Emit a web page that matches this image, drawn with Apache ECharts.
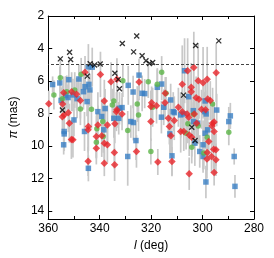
<!DOCTYPE html>
<html><head><meta charset="utf-8">
<script src="https://cdn.jsdelivr.net/npm/echarts@6/dist/echarts.min.js"></script>
<style>html,body{margin:0;padding:0;background:#fff}#c{width:274px;height:258px}</style>
</head><body><div id="c"></div>
<script>
// Galactic longitude l (deg), parallax pi (mas), parallax error (mas)
const blueL = [358.3,355.5,352.0,348.1,353.2,352.3,350.4,346.3,343.8,345.7,348.8,344.9,344.4,342.9,344.2,324.7,328.9,327.0,323.5,322.5,337.9,332.3,331.3,355.0,
  307.0,317.6,315.9,305.4,299.0,294.5,312.4,315.1,311.4,303.6,
  350.0,353.8,353.8,354.0,345.9,344.4,340.7,339.2,338.4,334.5,332.6,327.9,326.9,325.9,329.1,
  311.9,316.0,312.7,311.0,308.5,307.3,303.0,303.6,301.9,299.2,298.6,298.0,299.0,299.8,301.1,299.8,298.7,289.2,289.8,287.7,287.4];
const blueP = [6.22,6.12,5.92,5.88,6.90,7.02,6.86,6.66,6.55,6.35,7.09,7.27,5.13,5.15,6.21,5.64,6.27,6.68,6.76,6.78,7.70,7.68,7.64,7.20,
  5.37,6.39,6.19,6.97,7.23,7.79,7.17,7.62,7.89,7.83,
  8.40,9.11,9.26,9.93,9.11,11.38,7.89,8.19,9.01,8.30,8.30,8.50,8.56,9.67,10.65,
  10.61,8.23,9.26,7.95,8.09,8.03,9.83,8.50,8.60,7.89,8.03,9.01,9.22,9.93,10.34,10.65,12.22,8.15,8.50,10.65,12.49];
const blueErr = [0.5,1.0,1.2,0.9,1.2,0.8,1.0,1.1,1.0,0.9,1.2,0.9,1.4,1.2,1.0,1.0,1.2,1.0,1.1,0.9,1.2,1.0,0.9,0.8,
  2.0,1.1,1.0,1.5,1.2,1.0,1.0,1.1,1.2,1.3,
  1.0,1.2,1.0,0.6,1.2,0.8,1.2,1.1,1.3,1.2,1.0,1.0,1.1,1.2,1.8,
  1.2,1.0,1.2,1.0,1.4,1.2,1.4,1.2,1.3,1.2,1.0,1.2,1.0,1.5,1.0,1.0,1.0,0.8,0.9,0.5,0.7];

const greenL = [355.3,347.2,331.0,321.1,352.8,349.7,357.8,354.5,347.5,343.2,334.5,335.1,325.4,315.9,317.6,314.2,296.1,319.4,
  341.1,338.8,341.3,338.6,329.1,324.9,320.1,305.7,306.4,304.2,301.7,298.2,299.5,289.8,303.5];
const greenP = [5.80,5.58,5.99,6.05,6.66,6.56,6.86,7.10,7.72,7.74,7.23,7.48,7.42,5.47,6.21,6.76,7.42,7.62,
  8.95,8.50,9.77,9.42,9.05,8.09,10.34,8.64,9.22,10.08,8.77,9.46,10.44,9.16,8.05];
const greenErr = [1.2,1.0,1.0,1.0,1.0,1.1,0.9,0.8,1.0,1.2,1.2,1.0,1.1,1.0,1.0,1.0,1.0,1.2,
  1.0,1.2,1.0,1.0,1.2,1.0,0.8,1.2,1.0,1.0,1.1,1.0,1.0,0.8,1.0];

const redL = [345.7,339.7,335.6,333.3,324.7,354.0,350.9,349.0,354.4,347.5,338.2,333.3,320.1,359.8,
  305.8,303.4,294.7,314.5,307.9,304.4,304.4,301.7,299.8,298.2,302.5,301.4,298.0,297.0,314.6,317.9,319.8,309.4,307.9,300.4,298.8,
  353.8,352.2,354.5,351.8,351.0,350.4,344.4,344.5,344.5,341.3,341.3,340.7,339.2,338.2,337.0,338.2,337.0,334.1,333.5,331.3,334.3,334.2,325.7,320.1,
  317.4,311.9,312.3,313.3,312.9,311.0,306.0,305.4,308.5,307.3,305.2,304.2,302.3,303.2,296.1,295.5,296.3,295.5,297.6,298.2,298.3,296.5,295.7,294.8,294.8,295.5,305.2];
const redP = [5.47,5.60,6.05,5.90,6.07,6.72,6.66,6.82,7.42,7.21,7.23,7.78,7.58,7.40,
  5.37,5.17,5.49,6.76,6.21,6.39,6.66,5.99,6.11,5.90,7.03,7.13,7.11,7.21,7.34,7.52,7.34,7.62,7.89,7.74,7.78,
  8.09,7.95,8.20,8.60,9.60,9.62,8.81,9.01,10.95,9.42,10.14,8.71,9.38,9.83,9.93,11.06,8.71,8.64,7.89,8.03,10.40,11.16,10.34,8.50,
  10.99,10.96,9.38,8.30,8.81,8.44,8.03,8.23,9.11,9.11,9.32,9.46,8.60,8.03,8.60,8.52,8.77,9.11,9.73,10.40,10.81,10.65,10.20,10.24,10.85,11.63,11.71];
const redErr = [1.0,1.4,1.2,1.3,1.1,1.0,1.2,1.0,1.0,1.1,1.3,1.1,1.0,0.8,
  2.0,2.2,1.8,1.0,2.4,1.5,1.5,2.3,2.2,2.0,1.3,1.2,1.3,1.2,1.0,1.1,1.0,1.2,1.3,1.2,1.2,
  1.0,1.2,1.0,1.2,1.2,1.1,1.5,1.4,0.9,1.3,1.0,1.2,1.3,1.1,1.1,0.8,1.2,1.2,1.2,1.0,1.0,1.0,1.0,1.2,
  0.8,0.9,1.2,1.2,1.1,1.2,1.3,1.2,1.3,1.2,1.3,1.2,1.3,1.2,1.3,1.2,1.2,1.3,1.2,1.1,1.2,1.0,1.2,1.0,1.0,0.8,1.0];

const crossL = [355.3,351.7,351.3,343.7,342.0,339.8,334.1,344.8,332.8,332.3,354.5,331.2,325.6,326.8,323.5,322.0,320.6,319.4,302.7,293.7,307.4,304.2,302.9];
const crossP = [4.64,4.23,4.68,4.94,5.02,4.96,5.53,5.70,5.90,6.48,7.79,3.69,3.23,4.21,4.45,4.76,4.92,4.86,3.82,3.53,6.87,8.85,9.67];

const xTicks = [360,340,320,300,280];
const yTicks = [2,4,6,8,10,12,14];
const cutLine = 5;

const zip = (a,b,c) => a.map((v,i)=> c ? [v,b[i],c[i]] : [v,b[i]]);
const errData = [].concat(zip(blueL,blueP,blueErr), zip(greenL,greenP,greenErr), zip(redL,redP,redErr));

const font = 'Liberation Sans, Arial, sans-serif';
const axCommon = {
  type:'value', splitLine:{show:false},
  axisLine:{show:true, onZero:false, lineStyle:{color:'#000', width:1}},
  axisTick:{show:true, inside:true, length:4, lineStyle:{color:'#000'}}
};
const chart = echarts.init(document.getElementById('c'), null, {renderer:'canvas'});
chart.setOption({
  animation:false,
  textStyle:{fontFamily:font},
  grid:{left:40, right:20, top:16, bottom:39},
  xAxis:[
    Object.assign({}, axCommon, {position:'bottom', min:280, max:360, interval:20, inverse:true,
      minorTick:{show:true, splitNumber:2, length:3, lineStyle:{color:'#000'}},
      axisLabel:{color:'#000', fontSize:12, margin:4, fontFamily:font},
      name:'{i|l} (deg)', nameLocation:'middle', nameGap:17,
      nameTextStyle:{color:'#000', fontSize:12, fontFamily:font, rich:{i:{fontStyle:'italic', fontSize:12, fontFamily:font, color:'#000'}}}}),
    Object.assign({}, axCommon, {position:'top', min:280, max:360, interval:20, inverse:true,
      minorTick:{show:true, splitNumber:2, length:3, lineStyle:{color:'#000'}},
      axisLabel:{show:false}})
  ],
  yAxis:[
    Object.assign({}, axCommon, {position:'left', min:2, max:14.5, interval:2, inverse:true,
      axisLabel:{color:'#000', fontSize:12, margin:4, fontFamily:font, showMaxLabel:false},
      name:'{i|π} (mas)', nameLocation:'middle', nameGap:24,
      nameTextStyle:{color:'#000', fontSize:12, fontFamily:font, rich:{i:{fontStyle:'italic', fontSize:12, fontFamily:font, color:'#000'}}}}),
    Object.assign({}, axCommon, {position:'right', min:2, max:14.5, interval:2, inverse:true,
      axisLabel:{show:false}})
  ],
  series:[
    {type:'custom', clip:true, data:errData, silent:true,
      renderItem:function(params, api){
        const x=api.value(0), y=api.value(1), e=api.value(2);
        const p1=api.coord([x,y-e]), p2=api.coord([x,y+e]);
        return {type:'line', shape:{x1:p1[0],y1:p1[1],x2:p2[0],y2:p2[1]}, style:{stroke:'#c8c8c8', lineWidth:1.7}};
      }},
    {type:'scatter', data:zip(blueL,blueP), symbol:'rect', symbolSize:5.5, itemStyle:{color:'#3a7fc4'}},
    {type:'scatter', data:zip(greenL,greenP), symbol:'circle', symbolSize:5.5, itemStyle:{color:'#5cb548'}},
    {type:'scatter', data:zip(redL,redP), symbol:'diamond', symbolSize:7.5, itemStyle:{color:'#e8262b'}},
    {type:'scatter', data:zip(crossL,crossP), symbol:'path://M0,0L10,10M0,10L10,0', symbolSize:5,
      itemStyle:{color:'none', borderColor:'#000', borderWidth:1.3},
      markLine:{silent:true, symbol:'none', label:{show:false}, animation:false,
        lineStyle:{type:[3,2], color:'#444', width:1}, data:[{yAxis:cutLine}]}}
  ]
});
</script></body></html>
